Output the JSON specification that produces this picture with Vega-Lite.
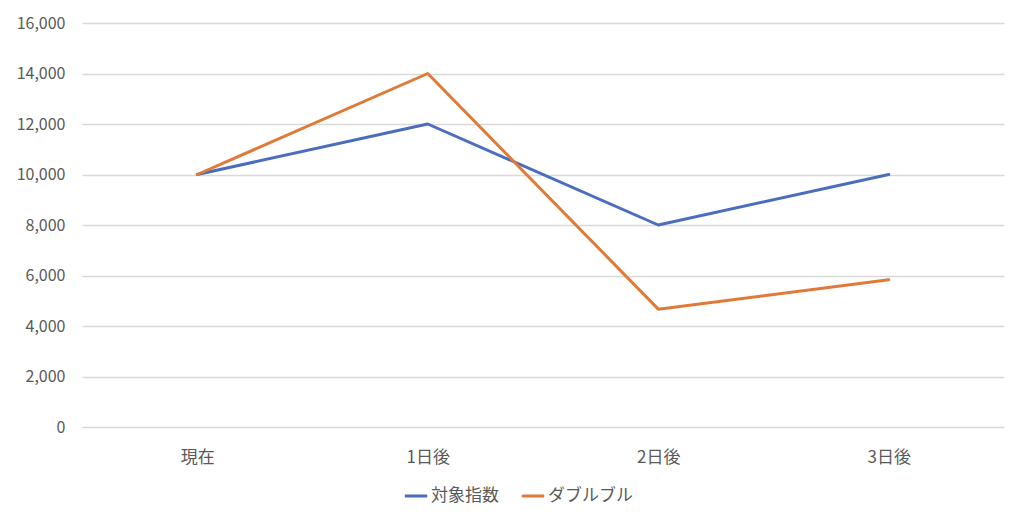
{
  "$schema": "https://vega.github.io/schema/vega-lite/v6.json",
  "width": 922,
  "height": 404,
  "autosize": {"type": "none"},
  "padding": {"left": 82, "top": 23, "right": 20, "bottom": 95},
  "background": "white",
  "data": {
    "values": [
      {"day": "現在", "series": "対象指数", "value": 10000},
      {"day": "1日後", "series": "対象指数", "value": 12000},
      {"day": "2日後", "series": "対象指数", "value": 8000},
      {"day": "3日後", "series": "対象指数", "value": 10000},
      {"day": "現在", "series": "ダブルブル", "value": 10000},
      {"day": "1日後", "series": "ダブルブル", "value": 14000},
      {"day": "2日後", "series": "ダブルブル", "value": 4667},
      {"day": "3日後", "series": "ダブルブル", "value": 5833}
    ]
  },
  "mark": {"type": "line", "strokeWidth": 3, "strokeCap": "round", "strokeJoin": "round"},
  "encoding": {
    "x": {
      "field": "day",
      "type": "nominal",
      "sort": ["現在", "1日後", "2日後", "3日後"],
      "scale": {"type": "point", "padding": 0.5},
      "axis": {
        "title": null,
        "labelAngle": 0,
        "domain": false,
        "ticks": false,
        "grid": false,
        "labelPadding": 22,
        "labelFontSize": 17,
        "labelColor": "#595959",
        "labelFont": "Noto Sans CJK JP"
      }
    },
    "y": {
      "field": "value",
      "type": "quantitative",
      "scale": {"domain": [0, 16000], "nice": false},
      "axis": {
        "title": null,
        "values": [0, 2000, 4000, 6000, 8000, 10000, 12000, 14000, 16000],
        "format": ",d",
        "domain": false,
        "ticks": false,
        "grid": true,
        "gridColor": "#d9d9d9",
        "gridWidth": 1.5,
        "labelPadding": 17,
        "labelFontSize": 16,
        "labelColor": "#595959",
        "labelFont": "Noto Sans CJK JP"
      }
    },
    "color": {
      "field": "series",
      "type": "nominal",
      "sort": ["対象指数", "ダブルブル"],
      "scale": {"domain": ["対象指数", "ダブルブル"], "range": ["#4A6DBD", "#DF7A38"]},
      "legend": {
        "title": null,
        "orient": "none",
        "direction": "horizontal",
        "legendX": 321,
        "legendY": 460,
        "symbolType": "stroke",
        "symbolStrokeWidth": 3,
        "symbolSize": 500,
        "labelFontSize": 17,
        "labelColor": "#595959",
        "labelFont": "Noto Sans CJK JP",
        "labelOffset": 2,
        "columnPadding": 16
      }
    }
  },
  "config": {"view": {"stroke": null}}
}
